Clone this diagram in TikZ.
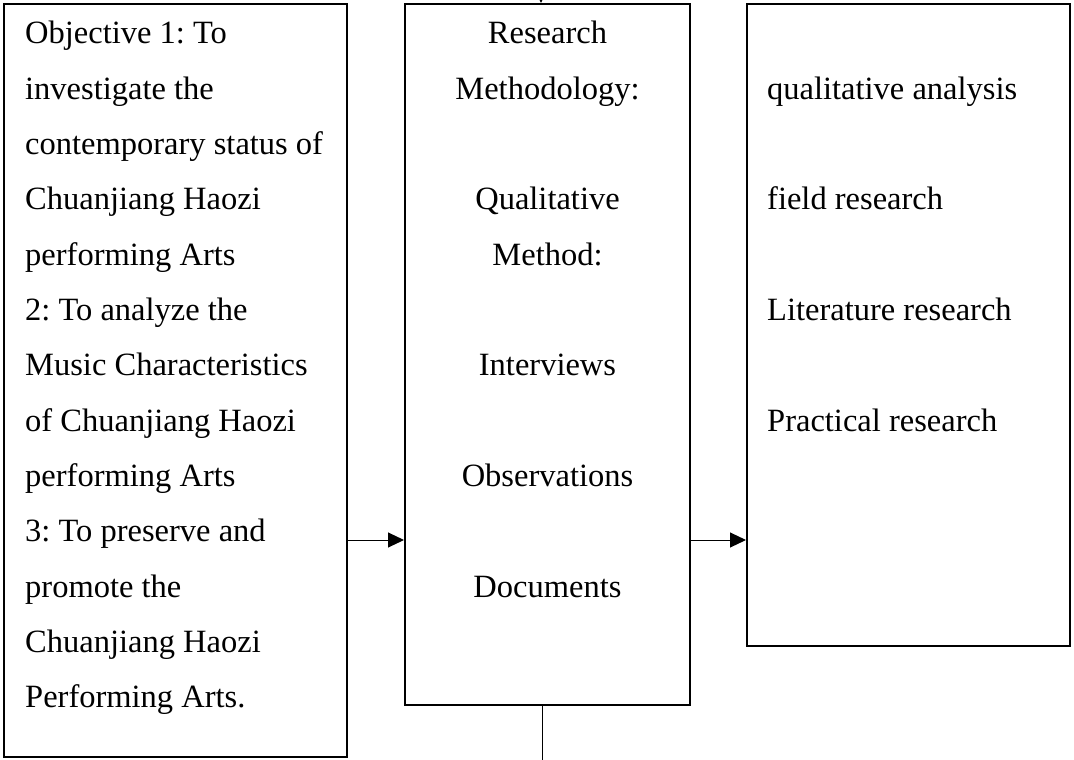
\documentclass[tikz,border=0pt]{standalone}
\usepackage{fontspec}
\setmainfont{Liberation Serif}
\usetikzlibrary{arrows.meta}
\tikzset{
  box/.style={draw,line width=2pt,rectangle,inner sep=0pt},
  link/.style={line width=1pt,-{Triangle[length=16pt,width=15pt]}},
  txt/.style={inner sep=0pt,font=\fontsize{32.5}{40}\selectfont\frenchspacing}
}
\begin{document}
\begin{tikzpicture}[x=1pt,y=-1pt]
          \useasboundingbox (0,0) rectangle (1074,760);
          \clip (0,0) rectangle (1074,760);
          % the three boxes
          \node[box,minimum width=343pt,minimum height=753pt] (obj) at (175.5,380.5) {};
          \node[box,minimum width=285pt,minimum height=701pt] (meth) at (547.5,354.5) {};
          \node[box,minimum width=323pt,minimum height=642pt] (res) at (908.5,325) {};
          % objectives
          \foreach \t [count=\i from 0] in {Objective 1: To,investigate the,contemporary status of,Chuanjiang Haozi,performing Arts,2: To analyze the,Music Characteristics,of Chuanjiang Haozi,performing Arts,3: To preserve and,promote the,Chuanjiang Haozi,Performing Arts.}
            \node[txt,anchor=base west] at (25,44+55.3*\i) {\t};
          % methodology
          \foreach \i/\t in {0/Research,1/Methodology:,3/Qualitative,4/Method:,6/Interviews,8/Observations,10/Documents}
            \node[txt,anchor=base] at (547.5,44+55.3*\i) {\t};
          % research
          \foreach \i/\t in {1/qualitative analysis,3/field research,5/Literature research,7/Practical research}
            \node[txt,anchor=base west] at (767,44+55.3*\i) {\t};
          % connectors
          \coordinate (mid) at (0,540);
          \coordinate (up) at (541,-60);
          \coordinate (down) at (542,800);
          \draw[link] (obj.east |- mid) -- (meth.west |- mid);
          \draw[link] (meth.east |- mid) -- (res.west |- mid);
          \draw[link] (up) -- (up |- meth.north);
          \draw[line width=1pt] (down |- meth.south) -- (down);
        \end{tikzpicture}
\end{document}
